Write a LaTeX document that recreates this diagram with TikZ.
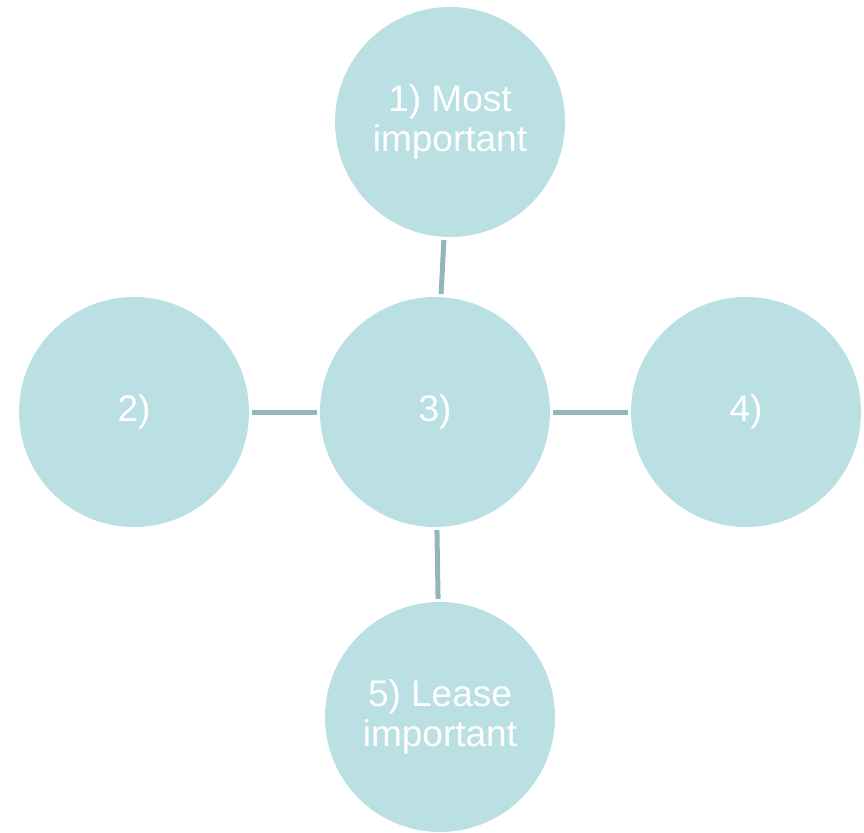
\documentclass[tikz,border=0pt]{standalone}
\usepackage{fontspec}
\setmainfont{Liberation Sans}
\usepackage{xcolor}
\definecolor{bubble}{HTML}{BAE0E3}
\definecolor{linkcol}{HTML}{94B5B9}

\begin{document}
\begin{tikzpicture}[x=1pt,y=-1pt,
        bubble/.style={circle, fill=bubble, draw=none, minimum size=230pt, inner sep=0pt,
            text=white, align=center, font=\fontsize{37}{40}\selectfont},
        link/.style={draw=linkcol, line width=5pt, shorten <=3pt, shorten >=3pt}]
        \useasboundingbox (0,0) rectangle (864,832);

        % Circles
        \node[bubble] (top)    at (450,122) {1) Most\\important};
        \node[bubble] (mid)    at (435,412) {3)};
        \node[bubble] (left)   at (134,412) {2)};
        \node[bubble] (right)  at (746,412) {4)};
        \node[bubble] (bottom) at (440,717) {5) Lease\\important};

        % Connectors
        \draw[link] (top) -- (mid);
        \draw[link] (left) -- (mid);
        \draw[link] (mid) -- (right);
        \draw[link] (mid) -- (bottom);
    \end{tikzpicture}
\end{document}
